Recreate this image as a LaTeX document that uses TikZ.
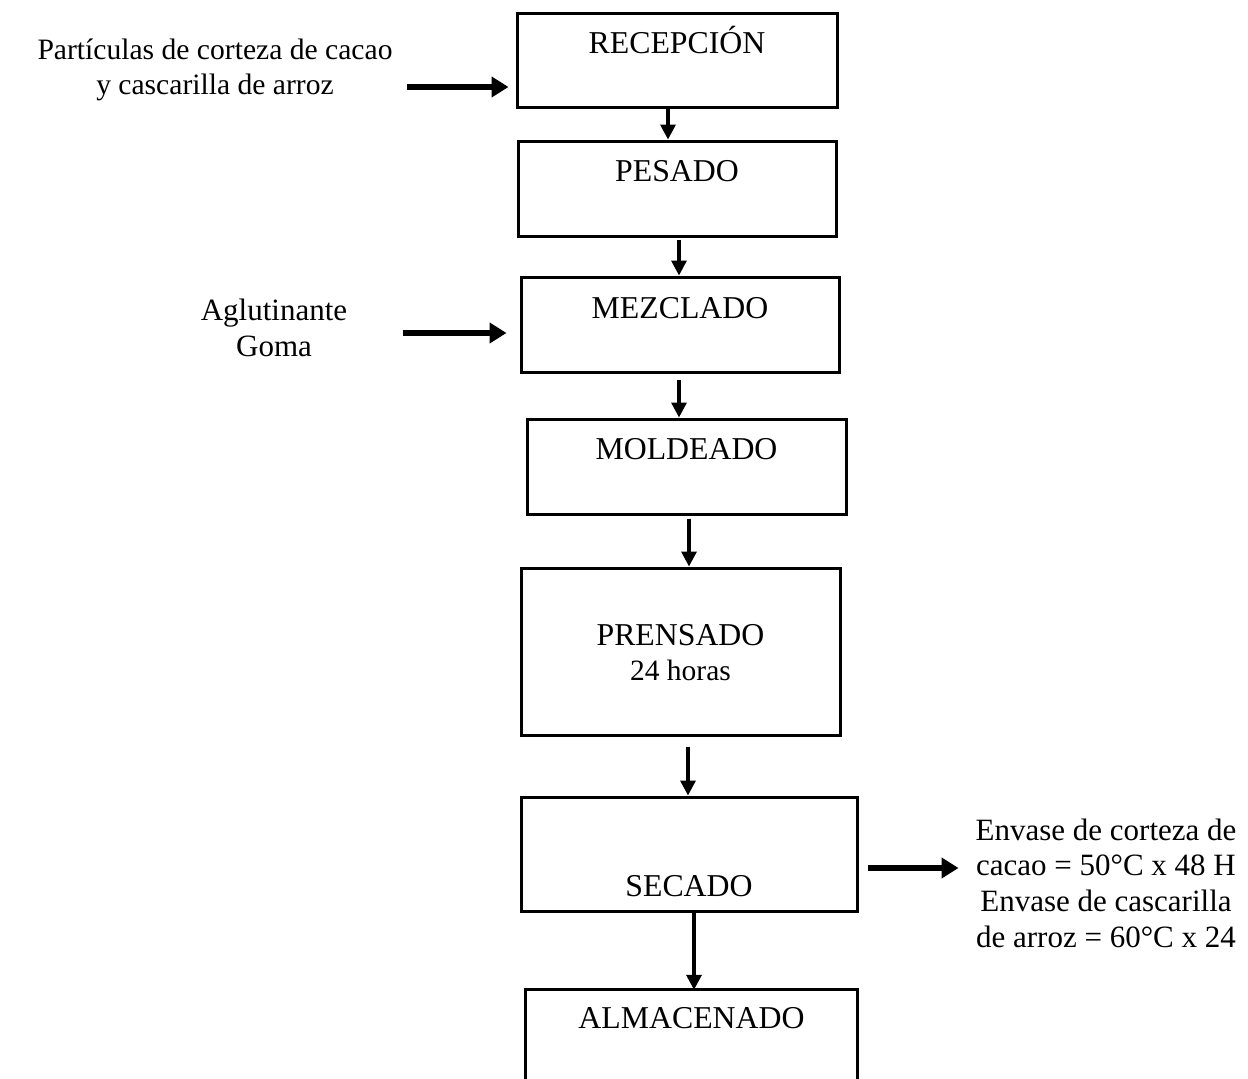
\documentclass[tikz,border=0pt]{standalone}
\usepackage{fontspec}
\setmainfont{Liberation Serif}
\usetikzlibrary{arrows.meta}
\begin{document}
\begin{tikzpicture}[x=1pt,y=-1pt,
  procbox/.style={draw,line width=3pt,inner sep=0pt},
  ttl/.style={anchor=base,font=\fontsize{31.8}{36}\selectfont,inner sep=0pt},
  sub/.style={anchor=base,font=\fontsize{29.5}{36}\selectfont,inner sep=0pt},
  side/.style={align=center,font=\fontsize{31}{35.7}\selectfont,inner sep=0pt},
  varrow/.style={line width=3.4pt,-{Triangle[length=15pt,width=15pt]}},
  harrow/.style={line width=5.5pt,-{Triangle[length=17pt,width=20pt]}}]
\useasboundingbox (0,0) rectangle (1248,1079);
% boxes
\node[procbox,minimum width=320pt,minimum height=94pt] (r) at (677,60) {};
\node[procbox,minimum width=318pt,minimum height=95pt] (p) at (677,188.5) {};
\node[procbox,minimum width=318pt,minimum height=95pt] (m) at (680,324.5) {};
\node[procbox,minimum width=319pt,minimum height=95pt] (mo) at (686.5,466.5) {};
\node[procbox,minimum width=319pt,minimum height=167pt] (pr) at (680.5,651.5) {};
\node[procbox,minimum width=336pt,minimum height=114pt] (s) at (689,854) {};
\node[inner sep=0pt,minimum width=331pt,minimum height=100pt] (a) at (691.5,1040) {};
\draw[line width=3pt] (a.south west) -- (a.north west) -- (a.north east) -- (a.south east);
% titles
\node[ttl] (tr) at ([yshift=-42pt]r.north) {RECEPCIÓN};
\node[ttl] (tp) at ([yshift=-42pt]p.north) {PESADO};
\node[ttl] (tm) at ([yshift=-43pt]m.north) {MEZCLADO};
\node[ttl] (tmo) at ([yshift=-42pt]mo.north) {MOLDEADO};
\node[ttl] (tpr) at ([yshift=-79pt]pr.north) {PRENSADO};
\node[sub] (tpr2) at ([yshift=-114pt]pr.north) {24 horas};
\node[ttl] (ts) at ([yshift=-101pt]s.north) {SECADO};
\node[ttl] (ta) at ([yshift=-39pt]a.north) {ALMACENADO};
% side texts
\node[side,font=\fontsize{29.6}{35.7}\selectfont] (in1) at (215,70) {Partículas de corteza de cacao\\y cascarilla de arroz};
\node[side] (in2) at (274,328) {Aglutinante\\Goma};
\node[side] (out1) at (1106,883) {Envase de corteza de\\cacao = 50°C x 48 H\\Envase de cascarilla\\de arroz = 60°C x 24};
% vertical arrows
\draw[varrow] ([xshift=-9pt]r.south) -- ([xshift=-9pt]p.north);
\draw[varrow] ([xshift=2pt,yshift=-2pt]p.south) -- ([xshift=2pt]p.south |- m.north);
\draw[varrow] ([xshift=-1pt,yshift=-6pt]m.south) -- ([xshift=-1pt]m.south |- mo.north);
\draw[varrow] ([xshift=2.5pt,yshift=-3pt]mo.south) -- ([xshift=2.5pt]mo.south |- pr.north);
\draw[varrow] ([xshift=7.5pt,yshift=-10pt]pr.south) -- ([xshift=7.5pt]pr.south |- s.north);
\draw[varrow] ([xshift=5pt]s.south) -- ([xshift=5pt]s.south |- a.north);
% horizontal arrows
\draw[harrow] ([xshift=-109pt,yshift=-27pt]r.west) -- ([xshift=-7pt,yshift=-27pt]r.west);
\draw[harrow] ([xshift=-117pt,yshift=-8.5pt]m.west) -- ([xshift=-13pt,yshift=-8.5pt]m.west);
\draw[harrow] ([xshift=9pt,yshift=-14pt]s.east) -- ([xshift=100pt,yshift=-14pt]s.east);
\end{tikzpicture}
\end{document}
